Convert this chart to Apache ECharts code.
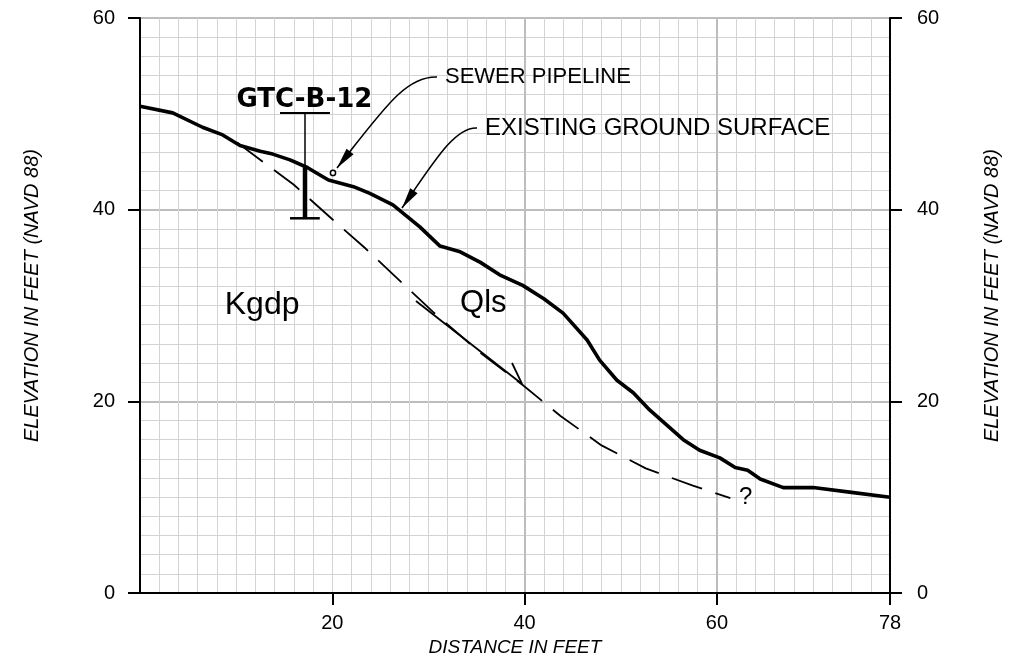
<!DOCTYPE html>
<html><head><meta charset="utf-8">
<script src="https://cdn.jsdelivr.net/npm/echarts@6/dist/echarts.min.js"></script>
<style>html,body{margin:0;padding:0;background:#fff}#c{width:1012px;height:662px}</style>
</head><body><div id="c"></div>
<script>
// ---- data (feet) ----
const groundX = [0, 3.4, 6.5, 8.6, 10.4, 12.5, 13.8, 15.6, 17.4, 18.4, 19.6, 22.2, 23.9, 26.3, 29.1, 31.2, 33.3, 35.4, 37.4, 39.8, 42.0, 44.0, 46.5, 47.8, 49.6, 51.3, 53.0, 56.5, 58.2, 60.3, 61.9, 63.2, 64.5, 66.9, 70.0, 74.0, 78];
const groundY = [50.8, 50.1, 48.6, 47.8, 46.7, 46.1, 45.8, 45.2, 44.4, 43.8, 43.1, 42.4, 41.7, 40.5, 38.2, 36.2, 35.6, 34.5, 33.2, 32.1, 30.7, 29.2, 26.4, 24.3, 22.2, 20.9, 19.1, 16.0, 14.9, 14.1, 13.1, 12.8, 11.9, 11.0, 11.0, 10.5, 10.0];
const contactX = [10.1, 16.0, 20.0, 23.4, 30.5, 35.6, 39.8, 43.7, 48.0, 52.6, 57.5, 61.4];
const contactY = [47.0, 42.6, 39.0, 36.0, 29.3, 24.9, 21.7, 18.5, 15.4, 13.0, 11.2, 9.9];
const xTickLabels = [20, 40, 60, 78];
const yTickLabels = [0, 20, 40, 60];
// slide direction arrow (start, tip) and barb
const slideArrow = [[28.7, 30.47], [39.73, 21.81]];
const slideBarb = [[38.69, 24.0], [39.73, 21.81]];
// boring GTC-B-12: station; elevations of stick top, ground, bottom; cap ends
const boringX = [17.16];
const boringElev = [50.1, 44.4, 39.1];
const boringCap = [15.6, 18.7];
const boringUnderline = [[14.56, 50.09], [19.76, 50.09]];
// leader curves: start, control1, control2, tip
const sewerLeader = [[30.89, 53.84], [27.56, 53.95], [25.27, 50.40], [20.49, 44.35]];
const groundLeader = [[35.05, 48.52], [32.76, 48.63], [30.68, 45.18], [27.25, 40.17]];
const sewerPipe = [20.07, 43.83];
// text labels
const labelTexts = ['Kgdp', 'Qls', '?', 'SEWER PIPELINE', 'EXISTING GROUND SURFACE', 'GTC-B-12'];
const labelX = [12.7, 35.7, 63.0, 31.72, 35.88, 17.1];
const labelY = [30.0, 30.2, 10.0, 53.84, 48.5, 51.4];

// ---- styles ----
const FONT = '"Liberation Sans", Arial, sans-serif';
const labelStyles = [
  {font: '32px ' + FONT, align: 'center'},
  {font: '31px ' + FONT, align: 'center'},
  {font: '24px ' + FONT, align: 'center'},
  {font: '22px ' + FONT, align: 'left'},
  {font: '24px ' + FONT, align: 'left'},
  {font: 'bold 26px "DejaVu Sans", sans-serif', align: 'center'}
];

const ground = groundX.map((x, i) => [x, groundY[i]]);
const contact = contactX.map((x, i) => [x, contactY[i]]);

function renderAnno(params, api) {
  const c = p => api.coord(p);
  const ch = [];
  const seg = (a, b, w) => {
    const p = c(a), q = c(b);
    ch.push({type: 'line', shape: {x1: p[0], y1: p[1], x2: q[0], y2: q[1]}, style: {stroke: '#000', lineWidth: w, lineCap: 'butt'}});
  };
  // slide arrow
  seg(slideArrow[0], slideArrow[1], 1.8);
  seg(slideBarb[0], slideBarb[1], 1.8);
  // boring
  const bx = boringX[0];
  seg([bx, boringElev[0]], [bx, boringElev[1]], 1.5);
  seg([bx, boringElev[1]], [bx, boringElev[2]], 4.5);
  seg([boringCap[0], boringElev[2]], [boringCap[1], boringElev[2]], 2.5);
  seg(boringUnderline[0], boringUnderline[1], 2);
  // leaders
  [sewerLeader, groundLeader].forEach(cv => {
    const [p0, p1, p2, p3] = cv.map(c);
    ch.push({type: 'bezierCurve', shape: {x1: p0[0], y1: p0[1], cpx1: p1[0], cpy1: p1[1], cpx2: p2[0], cpy2: p2[1], x2: p3[0], y2: p3[1]}, style: {stroke: '#000', lineWidth: 1.6, fill: null}});
    const dx = p3[0] - p2[0], dy = p3[1] - p2[1], L = Math.hypot(dx, dy);
    const ux = dx / L, uy = dy / L, len = 21, hw = 4.5;
    const ax = p3[0] - ux * len, ay = p3[1] - uy * len;
    ch.push({type: 'polygon', shape: {points: [[p3[0], p3[1]], [ax - uy * hw, ay + ux * hw], [ax + uy * hw, ay - ux * hw]]}, style: {fill: '#000'}});
  });
  const sp = c(sewerPipe);
  ch.push({type: 'circle', shape: {cx: sp[0], cy: sp[1], r: 2.6}, style: {fill: '#fff', stroke: '#000', lineWidth: 1.5}});
  // labels
  labelTexts.forEach((t, i) => {
    const p = c([labelX[i], labelY[i]]);
    ch.push({type: 'text', x: p[0], y: p[1], style: {text: t, font: labelStyles[i].font, align: labelStyles[i].align, verticalAlign: 'middle', fill: '#000'}});
  });
  return {type: 'group', children: ch};
}

const nameStyle = {fontFamily: FONT, fontStyle: 'italic', fontSize: 20, color: '#000'};
const option = {
  animation: false,
  grid: {left: 140, right: 122, top: 18, bottom: 69, containLabel: false},
  xAxis: [
    {type: 'value', min: 0, max: 78, interval: 2, position: 'top',
     axisLine: {show: false}, axisTick: {show: false}, axisLabel: {show: false},
     splitLine: {show: true, showMinLine: false, showMaxLine: false, lineStyle: {color: '#d3d3d3', width: 1}}},
    {type: 'value', min: 0, max: 78, interval: 20, position: 'bottom',
     axisLine: {show: true, onZero: false, lineStyle: {color: '#000', width: 2}},
     axisTick: {show: true, length: 12, customValues: xTickLabels, lineStyle: {color: '#000', width: 2}},
     axisLabel: {show: true, margin: 20, customValues: xTickLabels, fontSize: 20, fontFamily: FONT, color: '#000'},
     splitLine: {show: true, showMinLine: false, showMaxLine: false, lineStyle: {color: '#bdbdbd', width: 2}},
     name: 'DISTANCE IN FEET', nameLocation: 'middle', nameGap: 45,
     nameTextStyle: Object.assign({}, nameStyle, {fontSize: 19})}
  ],
  yAxis: [
    {type: 'value', min: 0, max: 60, interval: 2, position: 'left',
     axisLine: {show: false}, axisTick: {show: false}, axisLabel: {show: false},
     splitLine: {show: true, showMinLine: false, showMaxLine: false, lineStyle: {color: '#d3d3d3', width: 1}}},
    {type: 'value', min: 0, max: 60, interval: 20, position: 'left',
     axisLine: {show: true, onZero: false, lineStyle: {color: '#000', width: 2}},
     axisTick: {show: true, length: 12, customValues: yTickLabels, lineStyle: {color: '#000', width: 2}},
     axisLabel: {show: true, margin: 25, customValues: yTickLabels, fontSize: 20, fontFamily: FONT, color: '#000'},
     splitLine: {show: true, showMinLine: false, showMaxLine: true, lineStyle: {color: '#bdbdbd', width: 2}},
     name: 'ELEVATION IN FEET (NAVD 88)', nameLocation: 'middle', nameGap: 98,
     nameTextStyle: Object.assign({}, nameStyle, {padding: [0, 0, 0, 20]})},
    {type: 'value', min: 0, max: 60, interval: 20, position: 'right',
     axisLine: {show: true, onZero: false, lineStyle: {color: '#000', width: 2}},
     axisTick: {show: true, length: 12, customValues: yTickLabels, lineStyle: {color: '#000', width: 2}},
     axisLabel: {show: true, margin: 27, customValues: yTickLabels, fontSize: 20, fontFamily: FONT, color: '#000'},
     splitLine: {show: false},
     name: 'ELEVATION IN FEET (NAVD 88)', nameLocation: 'middle', nameGap: 92,
     nameTextStyle: Object.assign({}, nameStyle, {padding: [0, 0, 0, 20]})}
  ],
  series: [
    {type: 'line', name: 'contact', xAxisIndex: 1, yAxisIndex: 1, data: contact, symbol: 'none', z: 3,
     lineStyle: {color: '#000', width: 1.8, type: [32, 14]}},
    {type: 'line', name: 'ground', xAxisIndex: 1, yAxisIndex: 1, data: ground, symbol: 'none', z: 4,
     lineStyle: {color: '#000', width: 3.6, join: 'round'}},
    {type: 'custom', name: 'annotations', xAxisIndex: 1, yAxisIndex: 1, data: [[0, 0]], z: 5,
     renderItem: renderAnno}
  ]
};
const chart = echarts.init(document.getElementById('c'), null, {renderer: 'canvas'});
chart.setOption(option);
</script>
</body></html>
